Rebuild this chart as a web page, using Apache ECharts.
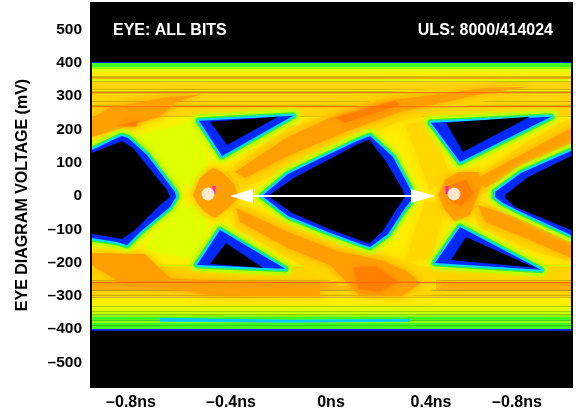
<!DOCTYPE html>
<html><head><meta charset="utf-8"><style>html,body{margin:0;padding:0;background:#fff}#c{width:576px;height:414px}</style>
<script src="https://cdn.jsdelivr.net/npm/echarts@6/dist/echarts.min.js"></script></head>
<body><div id="c"></div><script>
// axis ticks (time in ps, voltage in mV)
const xTickValues=[-800,-400,0,400,744];
const xTickLabels=['–0.8ns','–0.4ns','0ns','0.4ns','–0.8ns'];
const yTickValues=[-500,-400,-300,-200,-100,0,100,200,300,400,500];
// horizontal rail density strips, top to bottom
const railTop=[403,400,388,382,373,358,355,343,319,313,310,283,271,268,-207,-212,-255,-261,-284,-300,-306,-331,-346,-357,-364,-375,-382,-390,-400];
const railBottom=[400,388,382,373,358,355,343,319,313,310,283,271,268,240,-212,-255,-261,-284,-300,-306,-331,-346,-357,-364,-375,-382,-390,-400,-405];
const railLevel=[0,3,4,6,7,7,6,8,7,8,8,8,8,8,6,8,8,9,8,8,7,6,5,4,3,4,3,3,0];
const traceExtent=[-956,960];
// thin saturated rows that run across all the traces [top mV, bottom mV]
const railLineTop=[356,312,270,-258];
const railLineBottom=[353,309,267,-262];
// lime-yellow arms next to the left crossing [ps, mV]
const limeArms=[
 [[-780,180],[-540,225],[-490,90],[-560,20],[-640,60]],
 [[-560,-20],[-490,-80],[-545,-190],[-750,-160],[-650,-65]]
];
// moderately dense trace arms [ps, mV]
const goldArms=[
 [[-424,72],[-172,205],[56,259],[276,313],[636,337],[636,289],[276,223],[56,162],[-144,93],[-364,18]],
 [[556,42],[796,168],[960,235],[960,138],[796,63],[596,3]],
 [[556,-27],[796,-48],[960,-96],[960,-198],[796,-162],[596,-96]],
 [[-396,-18],[-172,-78],[56,-147],[316,-198],[420,-240],[420,-280],[316,-301],[36,-268],[-172,-186],[-384,-96]],
 [[296,214],[396,229],[476,63],[396,18]],
 [[376,-12],[456,-27],[404,-186],[296,-198]]
];
// dense regions of the traces [ps, mV]
const denseArms=[
 [[-956,177],[-956,235],[-884,265],[-644,298],[-524,304],[-624,280],[-684,238]],
 [[-384,72],[-172,177],[-4,235],[256,289],[628,325],[796,328],[628,310],[276,253],[56,192],[-164,123],[-344,54]],
 [[-552,3],[-524,54],[-476,84],[-436,72],[-384,33],[-372,-6],[-412,-36],[-464,-66],[-504,-48],[-536,-21]],
 [[428,3],[456,48],[508,72],[588,72],[604,33],[580,-12],[556,-57],[496,-78],[456,-42]],
 [[588,54],[796,138],[960,204],[960,153],[796,93],[616,24]],
 [[588,-27],[796,-78],[960,-126],[960,-186],[796,-132],[616,-78]],
 [[-380,-36],[-172,-108],[36,-168],[200,-192],[300,-225],[360,-262],[280,-301],[110,-296],[-4,-208],[-172,-156],[-364,-78]],
 [[-956,-171],[-744,-174],[-644,-247],[-364,-259],[-44,-268],[-44,-301],[-484,-298],[-644,-277],[-824,-268],[-956,-208]]
];
const hotSpots=[
 [[16,235],[256,286],[276,274],[56,220]],
 [[-860,210],[-770,228],[-780,208]],
 [[470,30],[540,48],[570,6],[520,-30],[470,-10]],
 [[90,-215],[180,-212],[270,-258],[190,-288],[110,-280]]
];
// cyan streaks inside the lower rail [ps, mV]
const railStreaks=[
 [[-684,-366],[-172,-372],[-172,-381],[-684,-378]],
 [[-172,-372],[316,-370],[316,-378],[-172,-381]]
];
// outer (blue edge) contours of the eye openings
const eyeEdges=[
 [[-528,226],[-436,120],[-152,241]],
 [[400,220],[516,102],[880,238]],
 [[-276,0],[-172,66],[-40,114],[96,162],[156,180],[248,117],[308,33],[332,-3],[296,-36],[228,-114],[156,-153],[96,-138],[-12,-108],[-172,-60]],
 [[-1044,105],[-956,138],[-856,174],[-836,180],[-812,174],[-736,123],[-624,12],[-620,-3],[-644,-33],[-764,-108],[-816,-147],[-856,-138],[-956,-126],[-1044,-108]],
 [[656,12],[760,69],[960,135],[1076,168],[1076,-153],[960,-117],[760,-48],[688,-21],[656,-3]],
 [[-444,-102],[-536,-207],[-184,-219]],
 [[516,-93],[416,-201],[840,-222]]
];
// inner (empty) contours of the eye openings
const eyeHoles=[
 [[-484,223],[-212,238],[-416,153]],
 [[460,220],[796,238],[528,132]],
 [[-252,0],[-144,56],[-24,104],[96,152],[152,170],[216,108],[288,18],[296,-3],[268,-33],[204,-108],[152,-143],[96,-128],[-12,-98],[-156,-51]],
 [[-1044,96],[-956,129],[-856,159],[-836,165],[-792,144],[-656,18],[-644,-3],[-684,-27],[-784,-102],[-836,-129],[-856,-126],[-956,-114],[-1044,-96]],
 [[696,3],[788,57],[960,120],[1076,153],[1076,-138],[960,-102],[736,-33],[696,-6]],
 [[-420,-141],[-484,-204],[-272,-216]],
 [[540,-123],[480,-192],[816,-216]]
];
// annotations
const arrowShaft=[[-312,0],[320,0]];
const arrowHeads=[[[-404,0],[-312,21],[-312,-21]],[[416,0],[320,21],[320,-21]]];
const crossingDots=[[-492,6],[492,6]];
const crossingMarks=[[-468,18],[464,18]];
const titleLeft='EYE: ALL BITS', titleRight='ULS: 8000/414024', yName='EYE DIAGRAM VOLTAGE (mV)';

const palette=['#0028ff','#00c8ff','#00f080','#40ff20','#90ff00','#c8ff00','#e0ff00','#ffee00','#ffd400','#ffaa00','#ff6a00'];
const xMin=-964,xMax=968,yMin=-577,yMax=583;
const rect=(x0,x1,t,b)=>[[x0,t],[x1,t],[x1,b],[x0,b]];
function shapes(name,polys,styleOf,z){
 return {name,type:'custom',coordinateSystem:'cartesian2d',clip:true,silent:true,animation:false,z,
  encode:{x:0,y:1},data:polys.map((p,i)=>[p[0][0],p[0][1],i]),
  renderItem(params,api){
   const i=api.value(2);
   return {type:'polygon',shape:{points:polys[i].map(q=>api.coord(q))},style:styleOf(i)};
  }};
}
const plain=c=>()=>({fill:c});
const soft=(c,b)=>()=>({fill:c,shadowBlur:b,shadowColor:c});
const ring=(c,w,b)=>()=>({fill:c,stroke:c,lineWidth:w,lineJoin:'round',shadowBlur:b||0,shadowColor:c});
const font={fontFamily:'"Liberation Sans",Arial,sans-serif',fontWeight:'bold'};
const railPolys=railTop.map((t,i)=>rect(traceExtent[0],traceExtent[1],t,railBottom[i]));
const linePolys=railLineTop.map((t,i)=>rect(traceExtent[0],traceExtent[1],t,railLineBottom[i]));
const series=[
 shapes('base',[rect(traceExtent[0],traceExtent[1],240,-215)],plain('#ffee00'),1),
 shapes('rails',railPolys,i=>({fill:palette[railLevel[i]]}),2),
 shapes('streaks',railStreaks,plain('#00c8ff'),2),
 shapes('lime',limeArms,soft('#e0ff00',14),3),
 shapes('gold',goldArms,soft('#ffd800',14),3),
 shapes('arms',denseArms,soft('#ffa000',10),4),
 shapes('hot',hotSpots,soft('#ff8000',8),5),
 shapes('lines',linePolys,plain('#ff7000'),5),
 shapes('fringe',eyeEdges,ring('#c0ff00',13,5),6),
 shapes('green',eyeEdges,ring('#30f040',7),7),
 shapes('cyan',eyeEdges,ring('#00d8ff',4),8),
 shapes('blue',eyeEdges,plain('#0028ff'),9),
 shapes('holes',eyeHoles,plain('#000'),10),
 shapes('edgeL',[rect(xMin,traceExtent[0],yMax,yMin)],plain('#000'),11),
 shapes('edgeR',[rect(traceExtent[1],xMax,yMax,yMin)],plain('#000'),11),
 {name:'shaft',type:'line',data:arrowShaft,symbol:'none',lineStyle:{color:'#fff',width:2},animation:false,silent:true,z:12},
 shapes('heads',arrowHeads,plain('#fff'),13),
 {name:'marks',type:'scatter',data:crossingMarks,symbol:'rect',symbolSize:[3,8],itemStyle:{color:'#ff00e0'},animation:false,silent:true,z:14},
 {name:'dots',type:'scatter',data:crossingDots,symbol:'circle',symbolSize:13,itemStyle:{color:'#fff'},animation:false,silent:true,z:15}
];
const chart=echarts.init(document.getElementById('c'),null,{renderer:'canvas'});
chart.setOption({
 animation:false,backgroundColor:'#fff',
 grid:{left:90,top:2,width:483,height:386,show:true,backgroundColor:'#000',borderWidth:0},
 title:[
  {text:titleLeft,left:113,top:23,padding:0,textStyle:{...font,color:'#fff',fontSize:16}},
  {text:titleRight,right:23,top:23,padding:0,textStyle:{...font,color:'#fff',fontSize:16}}
 ],
 xAxis:{type:'value',min:xMin,max:xMax,splitLine:{show:false},axisTick:{show:false},axisLine:{show:false},
  axisLabel:{customValues:xTickValues,margin:7,color:'#000',fontSize:16,...font,
   formatter:v=>xTickLabels[xTickValues.indexOf(v)]}},
 yAxis:{type:'value',min:yMin,max:yMax,splitLine:{show:false},axisTick:{show:false},axisLine:{show:false},
  name:yName,nameLocation:'middle',nameGap:59,nameRotate:90,nameTextStyle:{color:'#000',fontSize:16,...font},
  axisLabel:{customValues:yTickValues,margin:8,color:'#000',fontSize:15.5,...font,
   formatter:v=>String(v).replace('-','–')}},
 series
});
</script></body></html>
